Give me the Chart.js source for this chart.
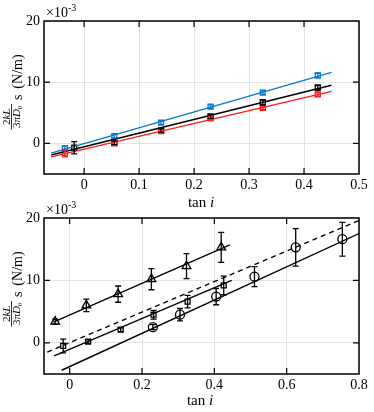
<!DOCTYPE html>
<html>
<head>
<meta charset="utf-8">
<script src="https://cdn.jsdelivr.net/npm/chart.js@4/dist/chart.umd.min.js"></script>
<style>
body { margin: 0; background: #fff; width: 374px; height: 412px; position: relative; overflow: hidden; }
.box { position: absolute; left: 0; width: 374px; height: 212px; }
</style>
</head>
<body>
<div class="box" style="top:0"><canvas id="chart-top"></canvas></div>
<div class="box" style="top:200px"><canvas id="chart-bottom"></canvas></div>
<script>
// values in units of 1e-3 N/m
// top panel
const topXTicks = [0, 0.1, 0.2, 0.3, 0.4, 0.5];
const topYTicks = [0, 10, 20];
const blueX = [-0.035, 0.055, 0.14, 0.23, 0.325, 0.425];
const blueY = [-0.8, 1.2, 3.4, 6.0, 8.3, 11.1];
const blueErr = [0.4, 0.3, 0.3, 0.3, 0.3, 0.4];
const blackX = [-0.018, 0.055, 0.14, 0.23, 0.325, 0.425];
const blackY = [-0.7, 0.1, 2.1, 4.4, 6.7, 9.1];
const blackErr = [1.0, 0.3, 0.3, 0.3, 0.4, 0.4];
const redX = [-0.035, 0.055, 0.14, 0.23, 0.325, 0.425];
const redY = [-1.6, 0.0, 2.0, 4.1, 5.8, 8.0];
const redErr = [0.6, 0.3, 0.3, 0.3, 0.3, 0.3];
const fitTopX = [-0.06, 0.45];
const blueFit = [-1.6, 11.6];
const blackFit = [-1.9, 9.5];
const redFit = [-2.2, 8.5];

// bottom panel
const botXTicks = [0, 0.2, 0.4, 0.6, 0.8];
const botYTicks = [0, 10, 20];
const triX = [-0.04, 0.046, 0.134, 0.226, 0.323, 0.419];
const triY = [3.4, 6.0, 7.8, 10.2, 12.3, 15.3];
const triErr = [0.4, 1.0, 1.3, 1.7, 2.0, 2.4];
const sqX = [-0.018, 0.051, 0.141, 0.232, 0.326, 0.426];
const sqY = [-0.5, 0.2, 2.1, 4.5, 6.6, 9.2];
const sqErr = [1.1, 0.3, 0.3, 0.7, 1.0, 1.5];
const circX = [0.23, 0.305, 0.405, 0.511, 0.625, 0.754];
const circY = [2.5, 4.5, 7.4, 10.6, 15.3, 16.6];
const circErr = [0.4, 1.0, 1.3, 1.6, 3.0, 2.7];
const triFitX = [-0.045, 0.443], triFit = [3.3, 15.7];
const sqFitX = [-0.043, 0.448], sqFit = [-2.1, 10.0];
const circFitX = [-0.022, 0.80], circFit = [-4.4, 17.5];
const dashFitX = [-0.062, 0.80], dashFit = [-1.5, 19.6];

const SERIF = '"Liberation Serif", "DejaVu Serif", serif';
const BLUE = '#0a78c8';
const RED = '#ff1a1a';
const BLACK = '#000000';

const pts = (xs, ys) => xs.map((x, i) => ({x, y: ys[i]}));

function markers(xs, ys, errs, color, style, radius) {
    return {
        type: 'scatter',
        data: pts(xs, ys),
        errors: errs,
        borderColor: color,
        backgroundColor: 'rgba(0,0,0,0)',
        pointStyle: style,
        pointRadius: radius,
        pointBorderWidth: 1.3,
        showLine: false,
    };
}

function fitLine(xs, ys, color, dash) {
    return {
        type: 'line',
        data: pts(xs, ys),
        borderColor: color,
        borderWidth: 1.4,
        borderDash: dash || [],
        pointRadius: 0,
        fill: false,
    };
}

const errorBars = {
    id: 'errorBars',
    afterDatasetsDraw(chart) {
        const {ctx} = chart;
        const ys = chart.scales.y;
        chart.data.datasets.forEach((ds, di) => {
            if (!ds.errors) return;
            const meta = chart.getDatasetMeta(di);
            ctx.save();
            ctx.strokeStyle = ds.borderColor;
            ctx.lineWidth = 1.3;
            meta.data.forEach((p, i) => {
                const v = ds.data[i].y, e = ds.errors[i];
                const y1 = ys.getPixelForValue(v + e), y2 = ys.getPixelForValue(v - e);
                ctx.beginPath();
                ctx.moveTo(p.x, y1); ctx.lineTo(p.x, y2);
                ctx.moveTo(p.x - 3, y1); ctx.lineTo(p.x + 3, y1);
                ctx.moveTo(p.x - 3, y2); ctx.lineTo(p.x + 3, y2);
                ctx.stroke();
            });
            ctx.restore();
        });
    }
};

// rotated label: fraction 2kL/(3πD0), then "s (N/m)"; y' in rotated frame == screen x
function drawYLabel(ctx, cy) {
    ctx.save();
    ctx.translate(0, cy);
    ctx.rotate(-Math.PI / 2);
    ctx.fillStyle = '#000';
    ctx.textBaseline = 'alphabetic';
    const fr = '11px ' + SERIF, fri = 'italic 11px ' + SERIF, sub = '7px ' + SERIF;
    const big = '14px ' + SERIF;
    ctx.font = fr; const w2 = ctx.measureText('2').width, w3 = ctx.measureText('3π').width;
    ctx.font = fri; const wkl = ctx.measureText('kL').width, wD = ctx.measureText('D').width;
    ctx.font = sub; const w0 = ctx.measureText('0').width;
    const numW = w2 + wkl, denW = w3 + wD + w0;
    const fracW = Math.max(numW, denW) + 3;
    ctx.font = big;
    const ws = ctx.measureText('s').width, wnm = ctx.measureText('(N/m)').width;
    const total = fracW + 4 + ws + 6 + wnm;
    const x0 = -total / 2;
    const nx = x0 + (fracW - numW) / 2;
    ctx.font = fr; ctx.fillText('2', nx, 9.5);
    ctx.font = fri; ctx.fillText('kL', nx + w2, 9.5);
    ctx.fillRect(x0, 11, fracW, 0.8);
    const dx = x0 + (fracW - denW) / 2;
    ctx.font = fr; ctx.fillText('3π', dx, 19.5);
    ctx.font = fri; ctx.fillText('D', dx + w3, 19.5);
    ctx.font = sub; ctx.fillText('0', dx + w3 + wD, 21.5);
    ctx.font = big;
    ctx.fillText('s', x0 + fracW + 4, 22);
    ctx.fillText('(N/m)', x0 + fracW + 4 + ws + 6, 22);
    ctx.restore();
}

function makeFrame(opts) {
    return {
        id: 'frame',
        afterDraw(chart) {
            const {ctx, chartArea: a} = chart;
            const xs = chart.scales.x, ys = chart.scales.y;
            ctx.save();
            ctx.strokeStyle = '#000';
            ctx.lineWidth = 1.5;
            ctx.strokeRect(a.left, a.top, a.right - a.left, a.bottom - a.top);
            ctx.lineWidth = 1.2;
            ctx.beginPath();
            opts.xTicks.forEach(v => {
                const px = xs.getPixelForValue(v);
                if (px <= a.left + 1 || px >= a.right - 1) return;
                ctx.moveTo(px, a.bottom); ctx.lineTo(px, a.bottom - 6);
                ctx.moveTo(px, a.top); ctx.lineTo(px, a.top + 6);
            });
            opts.yTicks.forEach(v => {
                const py = ys.getPixelForValue(v);
                if (py <= a.top + 1 || py >= a.bottom - 1) return;
                ctx.moveTo(a.left, py); ctx.lineTo(a.left + 6, py);
                ctx.moveTo(a.right, py); ctx.lineTo(a.right - 6, py);
            });
            ctx.stroke();
            ctx.fillStyle = '#000';
            // exponent
            ctx.font = '14px ' + SERIF;
            ctx.textBaseline = 'alphabetic';
            ctx.fillText('×10', a.left + 2, a.top - 4);
            const w = ctx.measureText('×10').width;
            ctx.font = '10px ' + SERIF;
            ctx.fillText('-3', a.left + 2 + w, a.top - 10);
            // x title
            ctx.font = '15px ' + SERIF;
            const wt = ctx.measureText('tan ').width;
            ctx.font = 'italic 15px ' + SERIF;
            const wi = ctx.measureText('i').width;
            const tx = opts.titleX - (wt + wi) / 2;
            ctx.font = '15px ' + SERIF;
            ctx.fillText('tan ', tx, opts.titleY);
            ctx.font = 'italic 15px ' + SERIF;
            ctx.fillText('i', tx + wt, opts.titleY);
            drawYLabel(ctx, opts.labelY);
            ctx.restore();
        }
    };
}

function tickFmt(v) {
    return String(Math.round(v * 10) / 10);
}

function makeChart(id, datasets, cfg) {
    return new Chart(document.getElementById(id), {
        type: 'scatter',
        data: {datasets},
        options: {
            responsive: true,
            maintainAspectRatio: false,
            animation: false,
            layout: {padding: {top: cfg.padTop, right: 15, left: 0, bottom: 0}},
            plugins: {legend: {display: false}, tooltip: {enabled: false}},
            scales: {
                x: {
                    type: 'linear', min: cfg.xMin, max: cfg.xMax,
                    afterBuildTicks: s => { s.ticks = cfg.xTicks.map(v => ({value: v})); },
                    afterFit: s => { s.height = cfg.xHeight; },
                    grid: {color: '#e2e2e2', lineWidth: 1, drawTicks: false},
                    border: {display: false},
                    ticks: {font: {family: SERIF, size: 14}, color: '#000', padding: 3, maxRotation: 0, callback: tickFmt}
                },
                y: {
                    type: 'linear', min: -5, max: 20,
                    afterBuildTicks: s => { s.ticks = cfg.yTicks.map(v => ({value: v})); },
                    afterFit: s => { s.width = 44; },
                    grid: {color: '#e2e2e2', lineWidth: 1, drawTicks: false},
                    border: {display: false},
                    ticks: {font: {family: SERIF, size: 14}, color: '#000', padding: 4, callback: v => String(v)}
                }
            }
        },
        plugins: [errorBars, makeFrame(cfg)]
    });
}

makeChart('chart-top', [
    fitLine(fitTopX, blueFit, BLUE),
    fitLine(fitTopX, redFit, RED),
    fitLine(fitTopX, blackFit, BLACK),
    markers(blueX, blueY, blueErr, BLUE, 'rect', 3.5),
    markers(redX, redY, redErr, RED, 'rect', 3.5),
    markers(blackX, blackY, blackErr, BLACK, 'rect', 3.5),
], {padTop: 21, xMin: -0.073, xMax: 0.5, xTicks: topXTicks, yTicks: topYTicks,
    xHeight: 38, titleX: 201, titleY: 207, labelY: 92});

makeChart('chart-bottom', [
    fitLine(triFitX, triFit, BLACK),
    fitLine(sqFitX, sqFit, BLACK),
    fitLine(circFitX, circFit, BLACK),
    fitLine(dashFitX, dashFit, BLACK, [5, 4]),
    markers(triX, triY, triErr, BLACK, 'triangle', 5),
    markers(sqX, sqY, sqErr, BLACK, 'rect', 3.5),
    markers(circX, circY, circErr, BLACK, 'circle', 4.5),
], {padTop: 18, xMin: -0.071, xMax: 0.8, xTicks: botXTicks, yTicks: botYTicks,
    xHeight: 38, titleX: 200, titleY: 205, labelY: 89});
</script>
</body>
</html>
